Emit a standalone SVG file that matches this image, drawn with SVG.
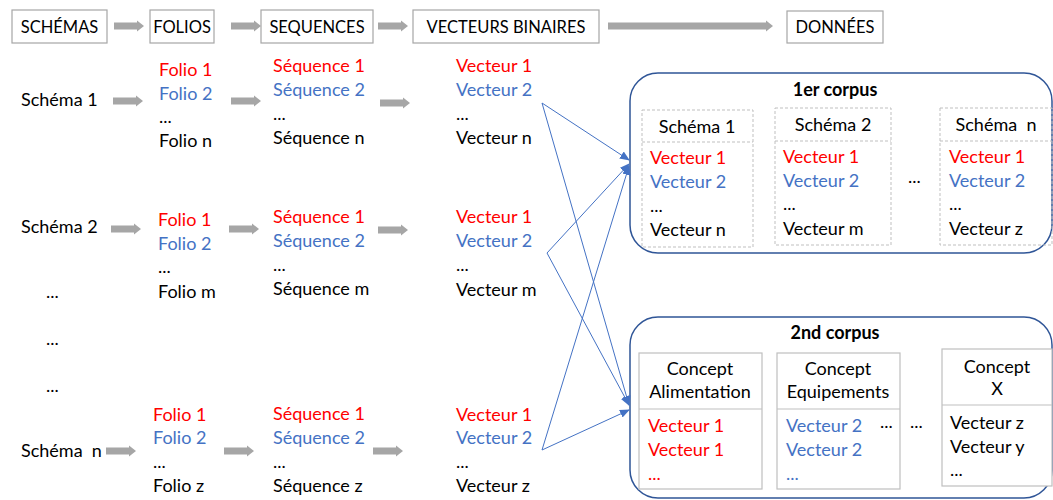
<svg xmlns="http://www.w3.org/2000/svg" width="1053" height="500" viewBox="0 0 1053 500">
<style>
text{font-family:Lato,"Liberation Sans",sans-serif;font-size:18px;fill:#000}
.r{fill:#FF0000}
.b{fill:#4472C4}
.bold{font-weight:bold}
.mid{text-anchor:middle}
.pre{white-space:pre}
.ht{font-size:16.5px}
.hdr{fill:#fff;stroke:#A6A6A6;stroke-width:1.2}
.garr{fill:#A6A6A6}
.corp{fill:#fff;stroke:#2F5597;stroke-width:1.5}
.dash{fill:none;stroke:#BFBFBF;stroke-width:1;stroke-dasharray:3,2}
.solid{fill:#fff;stroke:#BFBFBF;stroke-width:1.2}
.conn{fill:none;stroke:#4472C4;stroke-width:1}
</style>
<defs>
<path id="ga" class="garr" d="M0,-3.5 H23 V-5.5 L30,0 L23,5.5 V3.5 H0 Z"/>
<marker id="ah" markerUnits="userSpaceOnUse" markerWidth="10" markerHeight="10" viewBox="0 0 10 10" refX="9" refY="5" orient="auto">
<path d="M0,0.8 L10,5 L0,9.2 Z" fill="#4472C4"/>
</marker>
</defs>

<!-- top header row -->
<g id="h-schemas"><rect class="hdr" x="12" y="10" width="95" height="33"/><text x="59.5" y="32.5" class="mid ht">SCHÉMAS</text></g>
<g id="h-folios"><rect class="hdr" x="150" y="10" width="64" height="33"/><text x="182" y="32.5" class="mid ht">FOLIOS</text></g>
<g id="h-sequences"><rect class="hdr" x="261" y="10" width="112" height="33"/><text x="317" y="32.5" class="mid ht">SEQUENCES</text></g>
<g id="h-vecteurs"><rect class="hdr" x="413" y="10" width="186" height="33"/><text x="506" y="32.5" class="mid ht">VECTEURS BINAIRES</text></g>
<g id="h-donnees"><rect class="hdr" x="787" y="11" width="96" height="32"/><text x="835" y="33" class="mid ht">DONNÉES</text></g>

<g id="gray-arrows">
<use href="#ga" x="114" y="26"/>
<use href="#ga" x="231" y="26"/>
<use href="#ga" x="378" y="26"/>
<path class="garr" d="M608,22.5 H766 V20.5 L773,26 L766,31.5 V29.5 H608 Z"/>
<use href="#ga" x="113" y="101"/>
<use href="#ga" x="231" y="101"/>
<use href="#ga" x="380" y="103"/>
<use href="#ga" x="111" y="229"/>
<use href="#ga" x="229" y="229"/>
<use href="#ga" x="378" y="230"/>
<use href="#ga" x="106" y="451"/>
<use href="#ga" x="224" y="451"/>
<use href="#ga" x="373" y="451"/>
</g>

<!-- row 1 -->
<g id="schema1"><text x="21" y="106">Schéma 1</text></g>
<g id="folios1"><text x="159" y="76" class="r">Folio 1</text><text x="159" y="100" class="b">Folio 2</text><text x="159" y="123">...</text><text x="159" y="147">Folio n</text></g>
<g id="seq1"><text x="273" y="72" class="r">Séquence 1</text><text x="273" y="96" class="b">Séquence 2</text><text x="273" y="120">...</text><text x="273" y="144">Séquence n</text></g>
<g id="vec1"><text x="456" y="72" class="r">Vecteur 1</text><text x="456" y="96" class="b">Vecteur 2</text><text x="456" y="120">...</text><text x="456" y="144">Vecteur n</text></g>

<!-- row 2 -->
<g id="schema2"><text x="21" y="233">Schéma 2</text></g>
<g id="folios2"><text x="158" y="226" class="r">Folio 1</text><text x="158" y="250" class="b">Folio 2</text><text x="158" y="273">...</text><text x="158" y="298">Folio m</text></g>
<g id="seq2"><text x="273" y="223" class="r">Séquence 1</text><text x="273" y="247" class="b">Séquence 2</text><text x="273" y="271">...</text><text x="273" y="295">Séquence m</text></g>
<g id="vec2"><text x="456" y="223" class="r">Vecteur 1</text><text x="456" y="247" class="b">Vecteur 2</text><text x="456" y="271">...</text><text x="456" y="296">Vecteur m</text></g>

<g id="dots-left"><text x="46" y="298">...</text><text x="46" y="345">...</text><text x="46" y="392">...</text></g>

<!-- row n -->
<g id="scheman"><text x="21" y="457" class="pre">Schéma  n</text></g>
<g id="foliosn"><text x="153" y="421" class="r">Folio 1</text><text x="153" y="444" class="b">Folio 2</text><text x="153" y="468">...</text><text x="153" y="492">Folio z</text></g>
<g id="seqn"><text x="273" y="420" class="r">Séquence 1</text><text x="273" y="444" class="b">Séquence 2</text><text x="273" y="468">...</text><text x="273" y="492">Séquence z</text></g>
<g id="vecn"><text x="456" y="421" class="r">Vecteur 1</text><text x="456" y="444" class="b">Vecteur 2</text><text x="456" y="468">...</text><text x="456" y="492">Vecteur z</text></g>

<!-- corpus 1 -->
<g id="corpus1">
<rect class="corp" x="630" y="73" width="422" height="180" rx="28"/>
<text x="835" y="96" class="mid bold">1er corpus</text>
<rect class="dash" x="642" y="110" width="111" height="137"/><line class="dash" x1="642" y1="142" x2="753" y2="142"/>
<text x="697" y="133" class="mid">Schéma 1</text>
<text x="650" y="164" class="r">Vecteur 1</text><text x="650" y="188" class="b">Vecteur 2</text><text x="650" y="212">...</text><text x="650" y="236">Vecteur n</text>
<rect class="dash" x="775" y="108" width="116" height="137"/><line class="dash" x1="775" y1="141" x2="891" y2="141"/>
<text x="833" y="131" class="mid">Schéma 2</text>
<text x="783" y="163" class="r">Vecteur 1</text><text x="783" y="187" class="b">Vecteur 2</text><text x="783" y="210">...</text><text x="783" y="235">Vecteur m</text>
<text x="908" y="183">...</text>
<rect class="dash" x="940" y="108" width="112" height="137"/><line class="dash" x1="940" y1="141" x2="1052" y2="141"/>
<text x="996" y="131" class="mid pre">Schéma  n</text>
<text x="949" y="163" class="r">Vecteur 1</text><text x="949" y="187" class="b">Vecteur 2</text><text x="949" y="210">...</text><text x="949" y="235">Vecteur z</text>
</g>

<!-- corpus 2 -->
<g id="corpus2">
<rect class="corp" x="630" y="317" width="422" height="181" rx="28"/>
<text x="835" y="339" class="mid bold">2nd corpus</text>
<rect class="solid" x="639" y="353" width="123" height="136"/><line class="solid" x1="639" y1="409" x2="762" y2="409"/>
<text x="700" y="375" class="mid">Concept</text><text x="700" y="398" class="mid">Alimentation</text>
<text x="648" y="432" class="r">Vecteur 1</text><text x="648" y="456" class="r">Vecteur 1</text><text x="648" y="480" class="r">...</text>
<rect class="solid" x="777" y="353" width="123" height="136"/><line class="solid" x1="777" y1="409" x2="900" y2="409"/>
<text x="838" y="375" class="mid">Concept</text><text x="838" y="398" class="mid">Equipements</text>
<text x="786" y="432" class="b">Vecteur 2</text><text x="786" y="456" class="b">Vecteur 2</text><text x="786" y="480" class="b">...</text>
<text x="880" y="428">...</text>
<text x="910" y="428">...</text>
<rect class="solid" x="942" y="349" width="110" height="137"/><line class="solid" x1="942" y1="405" x2="1052" y2="405"/>
<text x="997" y="373" class="mid">Concept</text><text x="997" y="395" class="mid">X</text>
<text x="950" y="429">Vecteur z</text><text x="950" y="453">Vecteur y</text><text x="950" y="476">...</text>
</g>

<!-- connectors -->
<g id="connectors">
<line class="conn" x1="542" y1="103" x2="629" y2="160" marker-end="url(#ah)"/>
<line class="conn" x1="542" y1="103" x2="629" y2="405" marker-end="url(#ah)"/>
<line class="conn" x1="547" y1="253" x2="629" y2="164" marker-end="url(#ah)"/>
<line class="conn" x1="547" y1="253" x2="629" y2="405" marker-end="url(#ah)"/>
<line class="conn" x1="542" y1="450" x2="629" y2="166" marker-end="url(#ah)"/>
<line class="conn" x1="542" y1="450" x2="629" y2="410" marker-end="url(#ah)"/>
</g>
</svg>
